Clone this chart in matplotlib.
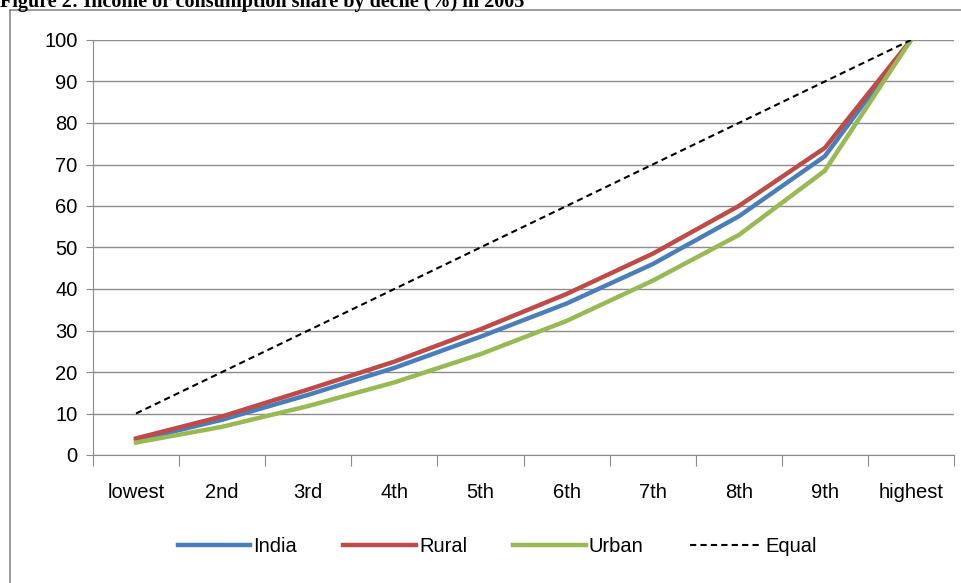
import matplotlib.pyplot as plt
from matplotlib.lines import Line2D

deciles = ['lowest', '2nd', '3rd', '4th', '5th', '6th', '7th', '8th', '9th', 'highest']
india = [3.5, 8.5, 14.5, 21.0, 28.5, 36.5, 46.0, 57.5, 72.0, 100]
rural = [4.0, 9.3, 15.8, 22.5, 30.3, 38.8, 48.5, 60.0, 74.0, 100]
urban = [3.0, 6.8, 11.8, 17.5, 24.3, 32.3, 42.0, 53.0, 68.5, 100]
equal = [10, 20, 30, 40, 50, 60, 70, 80, 90, 100]

W, H = 962, 583
fig = plt.figure(figsize=(W / 100, H / 100), dpi=100)
plt.rcParams['font.family'] = ['Liberation Sans', 'DejaVu Sans']

# title sits half off the top edge
fig.text(0, 1 - 7 / H, 'Figure 2: Income or consumption share by decile (%) in 2005',
         family='Liberation Serif', weight='bold', fontsize=14.5, va='baseline', ha='left')

# chart frame
fig.add_artist(Line2D([10 / W, 1], [1 - 10 / H, 1 - 10 / H], color='#8c8c8c', lw=1.2))
fig.add_artist(Line2D([10 / W, 10 / W], [0, 1 - 10 / H], color='#8c8c8c', lw=1.2))

ax = fig.add_axes([93 / W, 1 - 455 / H, (954 - 93) / W, (455 - 40) / H])
x = list(range(len(deciles)))
ax.plot(x, india, color='#4a7ebb', lw=3.2, label='India', solid_joinstyle='round')
ax.plot(x, rural, color='#be4b48', lw=3.2, label='Rural', solid_joinstyle='round')
ax.plot(x, urban, color='#98b954', lw=3.2, label='Urban', solid_joinstyle='round')
ax.plot(x, equal, color='black', lw=1.5, ls=(0, (3, 2)), label='Equal')

ax.set_xlim(-0.5, 9.5)
ax.set_ylim(0, 100)
ax.set_yticks(range(0, 101, 10))
ax.set_xticks([i - 0.5 for i in range(11)])
ax.set_xticklabels([])
ax.set_xticks(x, minor=True)
ax.set_xticklabels(deciles, minor=True)
ax.tick_params(axis='x', which='major', length=8, color='#8c8c8c', direction='out')
ax.tick_params(axis='x', which='minor', length=0, pad=20, labelsize=14.5)
ax.tick_params(axis='y', length=5, color='#8c8c8c', labelsize=14.5, pad=6)
ax.grid(axis='y', color='#8c8c8c', lw=1)
ax.set_axisbelow(True)
for s in ['top', 'right']:
    ax.spines[s].set_visible(False)
for s in ['left', 'bottom']:
    ax.spines[s].set_color('#8c8c8c')

fig.legend(loc='center', bbox_to_anchor=(0.517, 1 - 547 / H), ncol=4, frameon=False,
           fontsize=14.5, handlelength=3.6, columnspacing=2.3, handletextpad=0.15)

fig.savefig('out.png', dpi=100)
